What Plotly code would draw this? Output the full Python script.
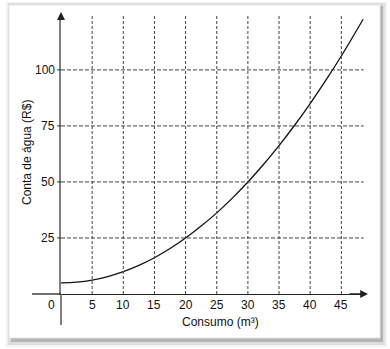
import plotly.graph_objects as go

# Data
consumo = [0, 2.5, 5, 7.5, 10, 12.5, 15, 17.5, 20, 22.5, 25, 27.5, 30, 32.5, 35, 37.5, 40, 42.5, 45, 48.5]
conta = [5, 5.3, 6.2, 7.8, 10, 12.8, 16.2, 20.3, 25, 30.3, 36.2, 42.8, 50, 57.8, 66.2, 75.3, 85, 95.3, 106.2, 122.6]
x_ticks = [5, 10, 15, 20, 25, 30, 35, 40, 45]
y_ticks = [25, 50, 75, 100]

W, H = 390, 349
L, R, T, B = 61, 25, 15, 55
PW, PH = W - L - R, H - T - B

def px(xpix):
    return (xpix - L) / PW

def py(ypix):
    return (H - B - ypix) / PH

XMAX = 48.8
YMAX = 124.5
FONT = dict(size=12, color="#111111", family="Liberation Sans, Arial")

fig = go.Figure()
fig.add_trace(go.Scatter(
    x=consumo, y=conta, mode="lines",
    line=dict(color="#111111", width=1.3, shape="spline", smoothing=1.0),
    hoverinfo="skip", showlegend=False, cliponaxis=False,
))

shapes = []
# card shadow + card
shapes.append(dict(type="rect", xref="paper", yref="paper", layer="below",
                   x0=px(6), x1=px(387), y0=py(2), y1=py(347),
                   fillcolor="#f2f2f2", line=dict(width=0)))
shapes.append(dict(type="rect", xref="paper", yref="paper", layer="below",
                   x0=px(8), x1=px(385), y0=py(3), y1=py(345),
                   fillcolor="#dedede", line=dict(width=0)))
shapes.append(dict(type="rect", xref="paper", yref="paper", layer="below",
                   x0=px(11), x1=px(383), y0=py(6), y1=py(342),
                   fillcolor="#b4b4b4", line=dict(width=0)))
shapes.append(dict(type="rect", xref="paper", yref="paper", layer="below",
                   x0=px(9), x1=px(380), y0=py(5), y1=py(338),
                   fillcolor="#ffffff", line=dict(color="#e4e4e4", width=1)))

# dashed grid
for xv in x_ticks:
    shapes.append(dict(type="line", xref="x", yref="y", x0=xv, x1=xv, y0=0, y1=YMAX,
                       line=dict(color="#444444", width=1, dash="3px,2px")))
for yv in y_ticks:
    shapes.append(dict(type="line", xref="x", yref="y", x0=0, x1=XMAX - 0.2, y0=yv, y1=yv,
                       line=dict(color="#444444", width=1, dash="4px,2px")))
# small y tick marks
for yv in y_ticks:
    shapes.append(dict(type="line", xref="paper", yref="y", x0=px(57), x1=0, y0=yv, y1=yv,
                       line=dict(color="#333333", width=1)))
# axis extensions
shapes.append(dict(type="line", xref="paper", yref="paper", x0=0, x1=0, y0=py(325), y1=0,
                   line=dict(color="#808080", width=2)))
shapes.append(dict(type="line", xref="paper", yref="paper", x0=px(32), x1=0, y0=0, y1=0,
                   line=dict(color="#222222", width=1.3)))
shapes.append(dict(type="line", xref="paper", yref="paper", x0=0, x1=0, y0=1, y1=py(18),
                   line=dict(color="#808080", width=2)))

annotations = []
# axis arrows
annotations.append(dict(x=0, y=py(12), xref="paper", yref="paper", ax=0, ay=7,
                        showarrow=True, arrowhead=2, arrowsize=1, arrowwidth=1.6,
                        arrowcolor="#222222", text=""))
annotations.append(dict(x=px(368), y=0, xref="paper", yref="paper", ax=-20, ay=0,
                        showarrow=True, arrowhead=2, arrowsize=1.2, arrowwidth=1.3,
                        arrowcolor="#222222", text=""))
# tick labels
for xv in x_ticks:
    annotations.append(dict(x=xv, y=0, xref="x", yref="y", text=str(xv), showarrow=False,
                            yanchor="middle", yshift=-11, font=FONT))
annotations.append(dict(x=0, y=0, xref="x", yref="y", text="0", showarrow=False,
                        yanchor="middle", yshift=-11, xanchor="center", xshift=-10, font=FONT))
for yv in y_ticks:
    annotations.append(dict(x=px(57), y=yv, xref="paper", yref="y", text=str(yv), showarrow=False,
                            xanchor="right", yanchor="middle", font=FONT))
# axis titles
annotations.append(dict(x=px(220), y=py(322), xref="paper", yref="paper", text="Consumo (m³)",
                        showarrow=False, xanchor="center", yanchor="middle", font=FONT))
annotations.append(dict(x=px(27), y=py(153), xref="paper", yref="paper", text="Conta de água (R$)",
                        showarrow=False, xanchor="center", yanchor="middle", textangle=-90, font=FONT))

fig.update_layout(
    width=W, height=H,
    margin=dict(l=L, r=R, t=T, b=B),
    paper_bgcolor="#ffffff", plot_bgcolor="rgba(0,0,0,0)",
    shapes=shapes, annotations=annotations,
    xaxis=dict(range=[0, XMAX], showgrid=False, zeroline=False, showticklabels=False,
               showline=True, linecolor="#222222", linewidth=1.3, ticks=""),
    yaxis=dict(range=[0, YMAX], showgrid=False, zeroline=False, showticklabels=False,
               showline=True, linecolor="#808080", linewidth=2, ticks=""),
    showlegend=False,
)

fig.write_html("out.html")
